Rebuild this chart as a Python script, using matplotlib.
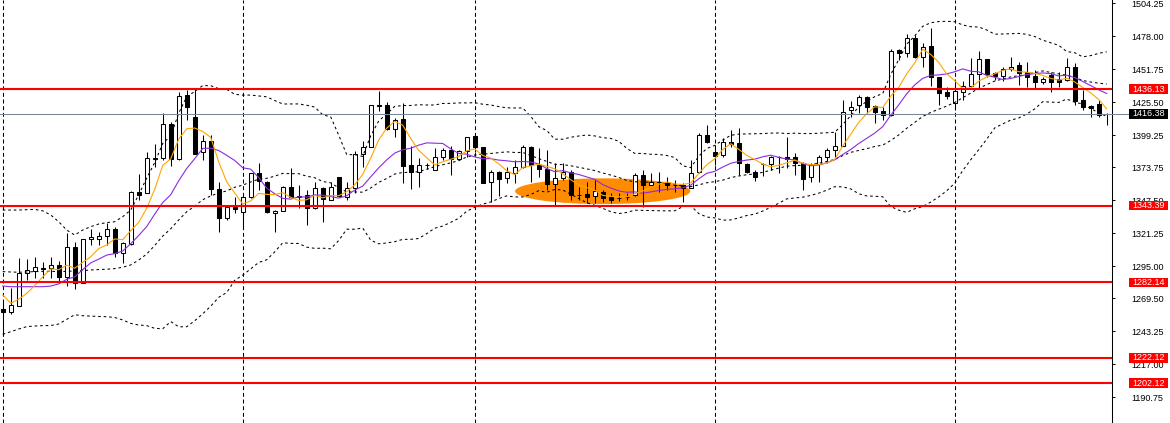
import numpy as np
import pandas as pd
import matplotlib
matplotlib.use("Agg")
import matplotlib.pyplot as plt
from matplotlib.patches import Ellipse, Rectangle

# ---- OHLC, one bar per entry ----
opens = [
    1261.4, 1258.9, 1263.7, 1289.4, 1291.5, 1293.8, 1293.4, 1296.1, 1286.3, 1310.6,
    1282.0, 1316.5, 1316.5, 1319.1, 1324.5, 1305.4, 1312.8, 1354.4, 1353.6, 1380.7,
    1381.0, 1408.3, 1380.2, 1431.4, 1413.6, 1386.3, 1394.8, 1356.3, 1333.2, 1342.5,
    1338.5, 1349.9, 1369.0, 1362.4, 1337.7, 1339.3, 1357.9, 1350.5, 1351.8, 1341.2,
    1357.1, 1347.8, 1365.9, 1350.4, 1357.1, 1384.4, 1390.2, 1423.6, 1423.4, 1404.1,
    1412.0, 1375.7, 1370.3, 1375.8, 1371.7, 1382.3, 1387.6, 1380.2, 1387.0, 1398.7,
    1389.7, 1361.9, 1369.8, 1365.1, 1369.0, 1374.3, 1390.2, 1375.7, 1372.2, 1360.3,
    1365.1, 1370.3, 1352.1, 1352.6, 1351.0, 1354.4, 1349.9, 1349.6, 1350.4, 1351.8,
    1367.7, 1359.7, 1362.4, 1361.6, 1359.8, 1359.7, 1357.1, 1369.8, 1399.5, 1385.8,
    1383.6, 1394.2, 1392.9, 1376.5, 1370.3, 1376.6, 1376.5, 1382.0, 1382.3, 1382.3,
    1377.0, 1366.4, 1376.5, 1382.3, 1387.6, 1390.8, 1419.4, 1423.4, 1430.0, 1422.6,
    1418.6, 1415.5, 1467.2, 1465.0, 1476.5, 1461.4, 1470.4, 1445.9, 1434.0, 1425.3,
    1434.0, 1438.5, 1448.1, 1459.8, 1448.7, 1446.5, 1451.8, 1455.3, 1449.9, 1446.5,
    1442.0, 1447.3, 1443.9, 1443.3, 1453.9, 1427.4, 1422.6, 1424.2, 1416.3,
]
highs = [
    1268.2, 1277.5, 1301.4, 1300.8, 1302.7, 1298.7, 1302.7, 1299.2, 1321.3, 1314.6,
    1317.0, 1324.5, 1322.6, 1329.3, 1326.6, 1314.6, 1355.0, 1368.5, 1386.2, 1392.4,
    1417.3, 1410.1, 1433.5, 1435.4, 1435.9, 1399.5, 1399.5, 1362.4, 1343.0, 1350.4,
    1351.0, 1369.5, 1377.0, 1363.0, 1339.8, 1358.8, 1373.0, 1359.7, 1355.8, 1362.4,
    1358.4, 1362.4, 1366.5, 1362.4, 1387.0, 1395.0, 1423.6, 1434.8, 1426.0, 1412.8,
    1424.8, 1390.8, 1381.0, 1377.5, 1388.9, 1389.0, 1390.8, 1387.6, 1398.2, 1399.5,
    1390.0, 1371.7, 1371.1, 1374.3, 1379.6, 1391.6, 1390.5, 1388.9, 1387.6, 1377.0,
    1377.0, 1371.7, 1358.4, 1362.4, 1363.7, 1355.8, 1353.1, 1353.6, 1353.6, 1369.0,
    1371.7, 1369.0, 1370.3, 1366.4, 1363.7, 1361.1, 1379.6, 1400.9, 1407.5, 1391.6,
    1396.9, 1403.5, 1404.9, 1377.0, 1371.7, 1377.5, 1382.8, 1382.8, 1398.2, 1385.0,
    1378.3, 1377.0, 1383.6, 1389.0, 1402.2, 1427.4, 1426.8, 1431.4, 1430.6, 1423.4,
    1422.1, 1467.8, 1467.8, 1479.9, 1479.1, 1473.0, 1484.5, 1446.0, 1437.5, 1442.0,
    1442.5, 1460.6, 1466.6, 1460.0, 1449.9, 1453.4, 1461.9, 1457.9, 1457.9, 1451.3,
    1445.9, 1449.9, 1449.9, 1460.6, 1457.1, 1435.4, 1423.4, 1427.4, 1417.1,
]
lows = [
    1240.3, 1257.1, 1263.3, 1284.1, 1285.5, 1285.5, 1285.5, 1282.0, 1279.3, 1276.7,
    1281.5, 1312.0, 1312.0, 1312.0, 1302.7, 1297.4, 1312.0, 1348.0, 1353.1, 1374.3,
    1379.6, 1374.9, 1379.6, 1411.5, 1384.2, 1379.6, 1351.8, 1322.6, 1332.0, 1337.2,
    1325.3, 1349.5, 1355.8, 1337.5, 1322.6, 1339.0, 1349.2, 1341.2, 1327.9, 1340.4,
    1330.5, 1347.5, 1350.0, 1347.8, 1353.1, 1374.3, 1390.0, 1418.9, 1403.5, 1398.2,
    1361.6, 1356.3, 1358.4, 1372.2, 1371.5, 1379.6, 1367.7, 1379.6, 1382.3, 1386.0,
    1361.0, 1346.4, 1351.0, 1361.1, 1361.1, 1373.0, 1362.4, 1366.4, 1355.8, 1343.8,
    1363.7, 1347.8, 1347.8, 1345.6, 1345.2, 1346.4, 1345.6, 1347.2, 1347.5, 1351.0,
    1342.0, 1359.5, 1354.4, 1355.8, 1354.4, 1346.4, 1357.0, 1369.0, 1392.9, 1375.7,
    1382.3, 1390.2, 1367.7, 1369.0, 1362.9, 1367.0, 1371.7, 1369.0, 1373.0, 1367.7,
    1355.8, 1362.4, 1362.4, 1377.0, 1381.0, 1390.5, 1414.1, 1416.8, 1416.8, 1408.9,
    1411.5, 1414.7, 1459.2, 1461.9, 1461.0, 1453.9, 1438.5, 1423.4, 1428.0, 1419.4,
    1427.4, 1438.0, 1436.7, 1445.9, 1443.3, 1442.8, 1450.7, 1439.3, 1437.5, 1436.7,
    1440.1, 1434.0, 1438.0, 1442.8, 1423.4, 1419.4, 1414.1, 1414.1, 1407.5,
]
closes = [
    1258.9, 1264.2, 1289.4, 1292.1, 1294.2, 1292.9, 1296.1, 1286.3, 1310.1, 1282.0,
    1316.5, 1318.1, 1319.1, 1324.5, 1305.9, 1313.3, 1354.4, 1351.8, 1381.0, 1381.3,
    1408.3, 1380.2, 1430.6, 1422.1, 1384.2, 1394.8, 1356.3, 1333.2, 1342.5, 1340.4,
    1350.4, 1369.0, 1363.2, 1338.5, 1339.3, 1358.4, 1349.9, 1351.2, 1341.2, 1357.1,
    1348.4, 1358.4, 1351.0, 1357.1, 1384.4, 1390.2, 1423.4, 1423.0, 1404.1, 1411.5,
    1374.9, 1370.3, 1375.7, 1375.3, 1382.3, 1387.6, 1380.2, 1387.0, 1397.7, 1389.7,
    1361.6, 1369.8, 1364.5, 1369.8, 1374.3, 1390.2, 1375.7, 1372.2, 1360.3, 1365.1,
    1370.3, 1351.8, 1351.5, 1350.0, 1355.0, 1349.2, 1347.8, 1349.2, 1350.0, 1367.7,
    1359.7, 1362.4, 1362.0, 1359.5, 1359.4, 1357.1, 1369.0, 1399.5, 1394.2, 1383.1,
    1394.2, 1392.1, 1377.0, 1370.3, 1366.4, 1376.2, 1381.8, 1382.3, 1380.2, 1377.0,
    1364.3, 1375.7, 1382.3, 1387.6, 1390.8, 1418.1, 1421.6, 1430.0, 1422.1, 1418.1,
    1415.5, 1466.6, 1464.6, 1476.5, 1461.4, 1469.8, 1445.9, 1433.2, 1430.6, 1434.6,
    1438.5, 1448.1, 1459.8, 1447.9, 1446.7, 1452.1, 1453.9, 1449.1, 1445.9, 1442.0,
    1444.1, 1442.0, 1442.0, 1453.9, 1426.8, 1422.1, 1420.8, 1415.5, 1416.38,
]

# indicator values at the left edge, where the windows reach back before the first bar
ma_fast_lead = [1272.2, 1265.6, 1268.8, 1273.5]
ma_slow_lead = [1279.3, 1278.8, 1278.8, 1278.8, 1278.8, 1278.8, 1279.3, 1281.0, 1284.7]
bb_mid_lead = [1290.8, 1290.5, 1290.3, 1290.5, 1290.8, 1291.0, 1291.0, 1290.8, 1291.0, 1291.3,
               1291.6, 1292.1, 1292.4, 1292.7, 1293.2, 1294.3, 1296.1, 1300.0, 1304.8]
bb_up_lead = [1339.8, 1339.8, 1339.8, 1340.1, 1340.3, 1339.2, 1335.9, 1330.5, 1323.9, 1319.9,
              1323.9, 1326.6, 1328.7, 1329.8, 1330.5, 1334.5, 1339.8, 1352.0, 1365.3]
bb_low_lead = [1240.9, 1243.0, 1245.1, 1247.0, 1247.5, 1247.8, 1247.9, 1249.1, 1252.8, 1256.5,
               1255.7, 1255.4, 1255.1, 1254.9, 1254.3, 1252.3, 1249.6, 1248.3, 1247.8]

levels = [1436.13, 1343.39, 1282.14, 1222.12, 1202.12]
bid = 1416.38
grid_bars = [0, 30, 59, 89, 119]
tick_labels = ["1504.25", "1478.00", "1451.75", "1425.50", "1399.25", "1373.75", "1347.50",
               "1321.25", "1295.00", "1269.50", "1243.25", "1217.00", "1190.75"]

# highlighted consolidation zone (bar index / price)
zone_center = (75.0, 1354.8)
zone_size = (21.9, 20.5)

FIG_W, FIG_H = 1170, 423
AX_RIGHT = 1112


def with_lead(series, lead):
    vals = series.to_numpy().copy()
    vals[:len(lead)] = lead
    return vals


def price_tag(ax, value, face):
    """Coloured price box on the right scale, MT4 style."""
    x0 = 1129 / AX_RIGHT
    w = 39 / AX_RIGHT
    h = 9.4 * (ax.get_ylim()[1] - ax.get_ylim()[0]) / FIG_H
    tr = ax.get_yaxis_transform()
    ax.add_patch(Rectangle((x0, value - h / 2), w, h, transform=tr, facecolor=face,
                           edgecolor="none", clip_on=False, zorder=10))
    ax.text(x0 + w / 2, value, f"{value:.2f}", transform=tr, ha="center", va="center",
            color="white", fontsize=6.5, family="Liberation Sans", clip_on=False, zorder=11)


n = len(closes)
assert len(opens) == len(highs) == len(lows) == n
x = np.arange(n)
o = np.array(opens)
h = np.array(highs)
l = np.array(lows)
c = np.array(closes)

cs = pd.Series(c)
ma_fast = with_lead(cs.rolling(5).mean(), ma_fast_lead)
ma_slow = with_lead(cs.rolling(10).mean(), ma_slow_lead)
mid = cs.rolling(20).mean()
dev = cs.rolling(20).std(ddof=0)
bb_mid = with_lead(mid, bb_mid_lead)
bb_up = with_lead(mid + 2 * dev, bb_up_lead)
bb_low = with_lead(mid - 2 * dev, bb_low_lead)

fig = plt.figure(figsize=(FIG_W / 100, FIG_H / 100), dpi=100)
ax = fig.add_axes([0, 0, AX_RIGHT / FIG_W, 1])
ax.set_xlim(-0.34, 138.66)
ax.set_ylim(1170.3, 1507.0)

# background zone
ax.add_patch(Ellipse(zone_center, zone_size[0], zone_size[1], facecolor="#FF8C00",
                     edgecolor="none", zorder=0.5))

for g in grid_bars:
    ax.axvline(g, color="black", lw=0.75, ls=(0, (3.8, 2.6)), zorder=1)

# candles
up = c >= o
ax.vlines(x, l, h, color="black", lw=0.75, zorder=2)
body_lo = np.minimum(o, c)
body_h = np.maximum(np.abs(c - o), 0.05)
ax.bar(x, body_h, bottom=body_lo, width=0.55,
       color=np.where(up, "white", "black"), edgecolor="black", linewidth=0.75, zorder=3)

# bollinger bands
for band in (bb_up, bb_mid, bb_low):
    ax.plot(x, band, color="black", lw=0.75, ls=(0, (2.5, 2.8)), zorder=4)

ax.plot(x, ma_slow, color="#8A2BE2", lw=0.8, zorder=4.5)
ax.plot(x, ma_fast, color="#FFA500", lw=0.8, zorder=4.6)

ax.axhline(bid, xmax=1129 / AX_RIGHT, color="#778899", lw=0.75, clip_on=False, zorder=4.8)
for lvl in levels:
    ax.axhline(lvl, color="red", lw=1.5, zorder=5)

# right price scale
for s in ("top", "bottom", "left"):
    ax.spines[s].set_visible(False)
ax.spines["right"].set_color("black")
ax.spines["right"].set_linewidth(0.75)
ax.set_xticks([])
ax.yaxis.tick_right()
ax.set_yticks([float(t) for t in tick_labels])
ax.set_yticklabels(tick_labels, fontsize=6.5, family="Liberation Sans")
ax.tick_params(axis="y", direction="out", length=2.5, width=0.75, pad=11.5, colors="black")

for lvl in levels:
    price_tag(ax, lvl, "#FF0000")
price_tag(ax, bid, "black")

fig.savefig("out.png", dpi=100, facecolor="white")
